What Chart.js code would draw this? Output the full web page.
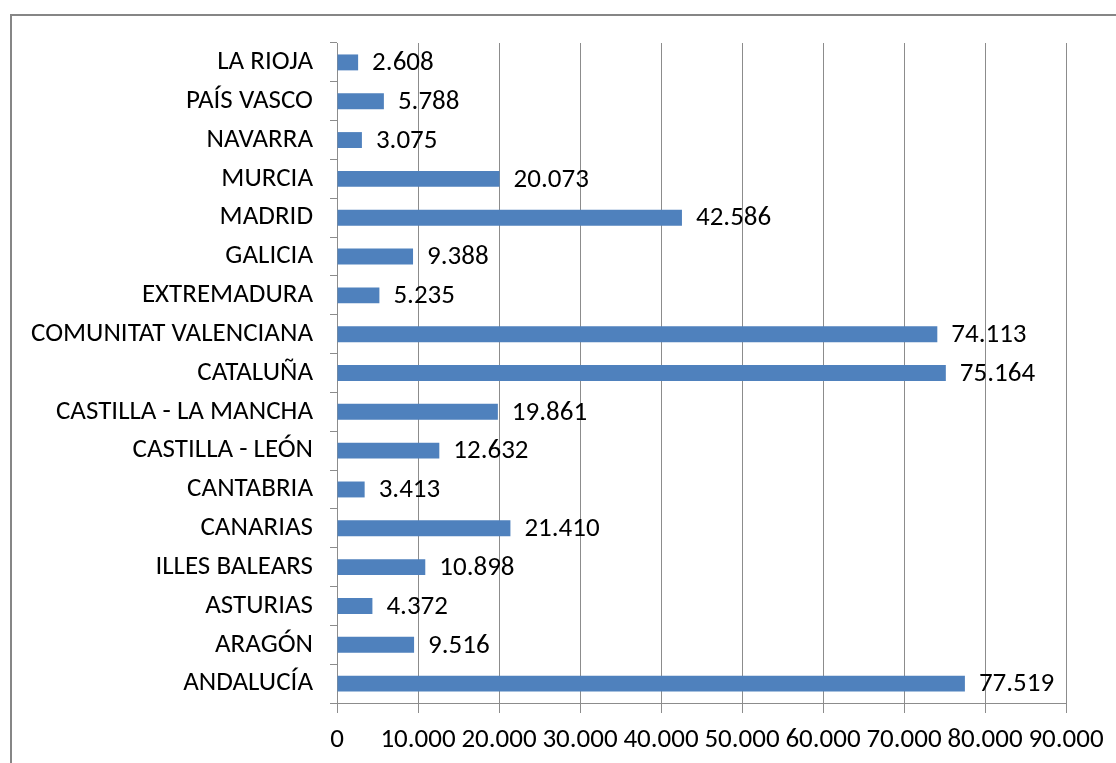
<!DOCTYPE html>
<html>
<head>
<meta charset="utf-8">
<script src="https://cdn.jsdelivr.net/npm/chart.js@4/dist/chart.umd.min.js"></script>
<style>
  html, body { margin: 0; padding: 0; background: #fff; }
  #wrap { position: relative; width: 1116px; height: 763px; }
</style>
</head>
<body>
<div id="wrap"><canvas id="grafico" width="1116" height="763"></canvas></div>
<script>
// Comunidades (de arriba a abajo) y valores
const comunidades = [
  "LA RIOJA", "PAÍS VASCO", "NAVARRA", "MURCIA", "MADRID", "GALICIA",
  "EXTREMADURA", "COMUNITAT VALENCIANA", "CATALUÑA", "CASTILLA - LA MANCHA",
  "CASTILLA - LEÓN", "CANTABRIA", "CANARIAS", "ILLES BALEARS", "ASTURIAS",
  "ARAGÓN", "ANDALUCÍA"
];
const valores = [
  2608, 5788, 3075, 20073, 42586, 9388,
  5235, 74113, 75164, 19861,
  12632, 3413, 21410, 10898, 4372,
  9516, 77519
];
const ejeMax = 90000;
const ejePaso = 10000;

const fuente = "Carlito, 'Liberation Sans Narrow', 'Liberation Sans', sans-serif";
const tamFuente = 27;

function formatoMiles(v) {
  return String(v).replace(/\B(?=(\d{3})+(?!\d))/g, ".");
}

// Marco gris alrededor del gráfico
const marco = {
  id: "marco",
  beforeDraw(chart) {
    const c = chart.ctx;
    c.save();
    c.fillStyle = "#fff";
    c.fillRect(0, 0, chart.width, chart.height);
    c.strokeStyle = "#868686";
    c.lineWidth = 2;
    c.strokeRect(11, 15, chart.width + 20, chart.height + 20);
    c.restore();
  }
};

// Etiquetas de valor a la derecha de cada barra
const etiquetas = {
  id: "etiquetas",
  afterDatasetsDraw(chart) {
    const c = chart.ctx;
    const meta = chart.getDatasetMeta(0);
    c.save();
    c.font = tamFuente + "px " + fuente;
    c.fillStyle = "#000";
    c.textAlign = "left";
    c.textBaseline = "middle";
    meta.data.forEach((bar, i) => {
      c.fillText(formatoMiles(valores[i]), bar.x + 14, bar.y + 1);
    });
    c.restore();
  }
};

const ctx = document.getElementById("grafico").getContext("2d");
new Chart(ctx, {
  type: "bar",
  data: {
    labels: comunidades,
    datasets: [{
      data: valores,
      backgroundColor: "#4F81BD",
      borderColor: "#4F81BD",
      borderWidth: 0,
      barPercentage: 0.41,
      categoryPercentage: 1
    }]
  },
  plugins: [marco, etiquetas],
  options: {
    indexAxis: "y",
    responsive: false,
    animation: false,
    layout: { padding: { top: 43, right: 50, left: 0, bottom: 0 } },
    plugins: {
      legend: { display: false },
      tooltip: { enabled: false }
    },
    scales: {
      x: {
        min: 0,
        max: ejeMax,
        ticks: {
          stepSize: ejePaso,
          color: "#000",
          padding: 11,
          maxRotation: 0,
          autoSkip: false,
          font: { family: fuente, size: tamFuente },
          callback: (v) => formatoMiles(v)
        },
        grid: {
          color: "#8c8c8c",
          lineWidth: 1,
          tickLength: 10
        },
        border: { display: true, color: "#8c8c8c", width: 1 },
        afterFit(scale) { scale.height = 60; }
      },
      y: {
        ticks: {
          color: "#000",
          padding: 17,
          autoSkip: false,
          font: { family: fuente, size: tamFuente }
        },
        grid: {
          drawOnChartArea: false,
          color: "#8c8c8c",
          tickLength: 7,
          offset: true
        },
        border: { display: true, color: "#8c8c8c", width: 1 },
        afterFit(scale) { scale.width = 337; }
      }
    }
  }
});
</script>
</body>
</html>
